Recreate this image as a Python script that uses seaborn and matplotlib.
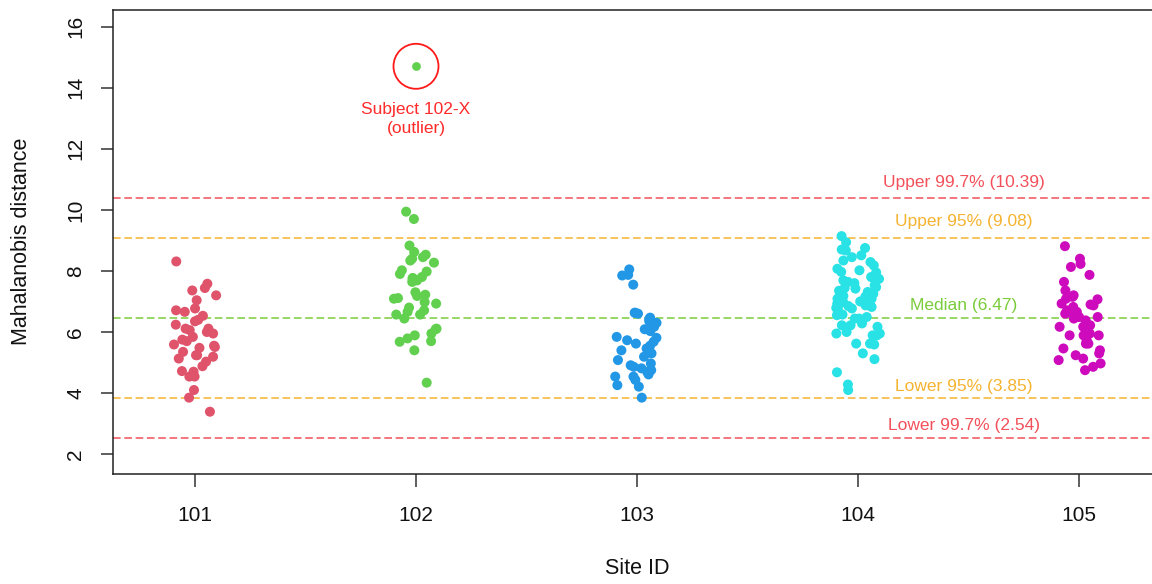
import numpy as np
import pandas as pd
import matplotlib
matplotlib.use("Agg")
import matplotlib.pyplot as plt
import seaborn as sns

# Mahalanobis distances per site
site_ids = ["101", "102", "103", "104", "105"]
site_colors = ["#DF536B", "#61D04F", "#2297E6", "#28E2E5", "#CD0BBC"]

d101 = [8.31, 7.58, 7.36, 7.44, 7.20, 7.04, 6.77, 6.71, 6.66, 6.35, 6.53, 6.11,
        6.06, 6.24, 6.11, 5.95, 5.75, 5.84, 5.55, 5.59, 5.48, 5.51, 5.35, 5.24,
        5.19, 5.13, 5.24, 5.03, 4.88, 4.70, 4.72, 4.54, 4.54, 4.10, 3.85, 3.39,
        6.00, 5.70, 6.40]
d102 = [9.94, 9.70, 8.83, 8.45, 8.34, 8.62, 8.53, 8.40, 8.27, 8.02, 7.98, 7.74,
        7.77, 7.80, 7.69, 7.64, 7.09, 7.11, 7.22, 7.18, 6.98, 6.93, 6.71, 6.57,
        6.66, 6.57, 6.44, 6.11, 6.09, 5.95, 5.89, 5.70, 5.68, 5.79, 5.40, 4.34,
        7.30, 7.90, 6.80]
d103 = [8.05, 7.87, 7.85, 7.55, 6.63, 6.42, 6.47, 6.60, 6.63, 6.35, 6.17, 6.09,
        6.03, 5.81, 5.84, 5.68, 5.73, 5.62, 5.55, 5.46, 5.40, 5.19, 5.08, 4.91,
        4.97, 4.86, 4.81, 4.70, 4.75, 4.61, 4.54, 4.54, 4.43, 4.26, 4.21, 3.85,
        5.30, 6.30]
d104 = [9.14, 8.94, 8.75, 8.70, 8.67, 8.51, 8.34, 8.29, 8.18, 8.07, 8.02, 7.80,
        7.74, 7.64, 7.69, 7.53, 7.47, 7.44, 7.42, 7.31, 7.25, 7.18, 7.15, 7.09,
        7.00, 6.98, 7.09, 6.85, 6.82, 6.77, 6.79, 6.77, 6.60, 6.57, 6.55, 6.44,
        6.49, 6.44, 6.22, 6.22, 6.28, 6.17, 5.95, 6.00, 5.95, 5.89, 5.89, 5.62,
        5.62, 5.59, 5.30, 5.11, 4.68, 4.28, 4.10, 7.97, 7.95, 6.93, 6.87, 7.35,
        8.45, 7.60]
d105 = [8.81, 8.40, 8.23, 8.13, 7.87, 7.64, 7.36, 7.15, 7.20, 7.09, 7.07, 6.87,
        6.93, 6.82, 6.71, 6.66, 6.66, 6.49, 6.49, 6.44, 6.38, 6.17, 6.22, 6.17,
        5.95, 5.89, 5.89, 5.89, 5.73, 5.62, 5.62, 5.46, 5.40, 5.30, 5.24, 5.13,
        5.08, 4.97, 4.86, 4.75, 6.90, 6.60]

outlier_site = "102"
outlier_value = 14.70
outlier_text = "Subject 102-X\n(outlier)"

# Reference thresholds
thr_labels = ["Upper 99.7% (10.39)", "Upper 95% (9.08)", "Median (6.47)",
              "Lower 95% (3.85)", "Lower 99.7% (2.54)"]
thr_values = [10.39, 9.08, 6.47, 3.85, 2.54]
thr_colors = ["#F2505A", "#F5B330", "#7ACC3A", "#F5B330", "#F2505A"]

y_ticks = [2, 4, 6, 8, 10, 12, 14, 16]

df = pd.concat([
    pd.DataFrame({"site": s, "dist": v})
    for s, v in zip(site_ids, [d101, d102, d103, d104, d105])
], ignore_index=True)

sns.set_theme(style="ticks")
plt.rcParams["font.family"] = ["Liberation Sans", "DejaVu Sans"]

fig = plt.figure(figsize=(11.52, 5.84), dpi=100)
ax = fig.add_axes([113 / 1152, 110 / 584, 1048 / 1152, 464.5 / 584])

np.random.seed(7)
sns.stripplot(data=df, x="site", y="dist", hue="site", order=site_ids,
              hue_order=site_ids, palette=site_colors, jitter=0.1, size=7.2,
              linewidth=0, legend=False, ax=ax, zorder=3)

# Outlier marked with a ring
pos_out = site_ids.index(outlier_site)
ax.scatter([pos_out], [outlier_value], s=40, color=site_colors[pos_out],
           linewidths=0, zorder=4)
ax.scatter([pos_out], [outlier_value], s=1050, facecolors="none",
           edgecolors="#FF1A1A", linewidths=1.3, zorder=4)
ax.annotate(outlier_text, xy=(pos_out, outlier_value), xytext=(0, -38),
            textcoords="offset points", ha="center", va="center",
            color="#FF2A2A", fontsize=12.5, linespacing=1.4)

# Threshold lines with labels
label_offsets = [11, 11.5, 8.5, 8, 9]
for lab, val, col, off in zip(thr_labels, thr_values, thr_colors, label_offsets):
    ax.axhline(val, color=col, lw=1.1, dashes=(5, 2.4), zorder=2)
    ax.annotate(lab, xy=(3.48, val), xytext=(0, off), textcoords="offset points",
                ha="center", va="center", color=col, fontsize=12.5)

ax.set_xlim(-0.371, 4.371)
ax.set_ylim(1.35, 16.56)
ax.set_yticks(y_ticks)
ax.set_yticklabels([str(t) for t in y_ticks])

for side in ["left", "bottom", "top"]:
    ax.spines[side].set_color("#222222")
    ax.spines[side].set_linewidth(1.1)
ax.spines["right"].set_visible(False)

ax.tick_params(axis="both", length=9, width=1.1, color="#333333",
               labelsize=15, labelcolor="#111111")
ax.tick_params(axis="x", pad=14)
ax.tick_params(axis="y", pad=11, labelrotation=90)
for t in ax.get_yticklabels():
    t.set_va("center")

ax.set_xlabel("Site ID", fontsize=15.5, color="#111111", va="center")
ax.set_ylabel("Mahalanobis distance", fontsize=15.5, color="#111111", va="center")
ax.xaxis.set_label_coords(0.5, (474 - 568) / 464.5)
ax.yaxis.set_label_coords((22 - 113) / 1048, 0.5)

fig.savefig("out.png", dpi=100)
